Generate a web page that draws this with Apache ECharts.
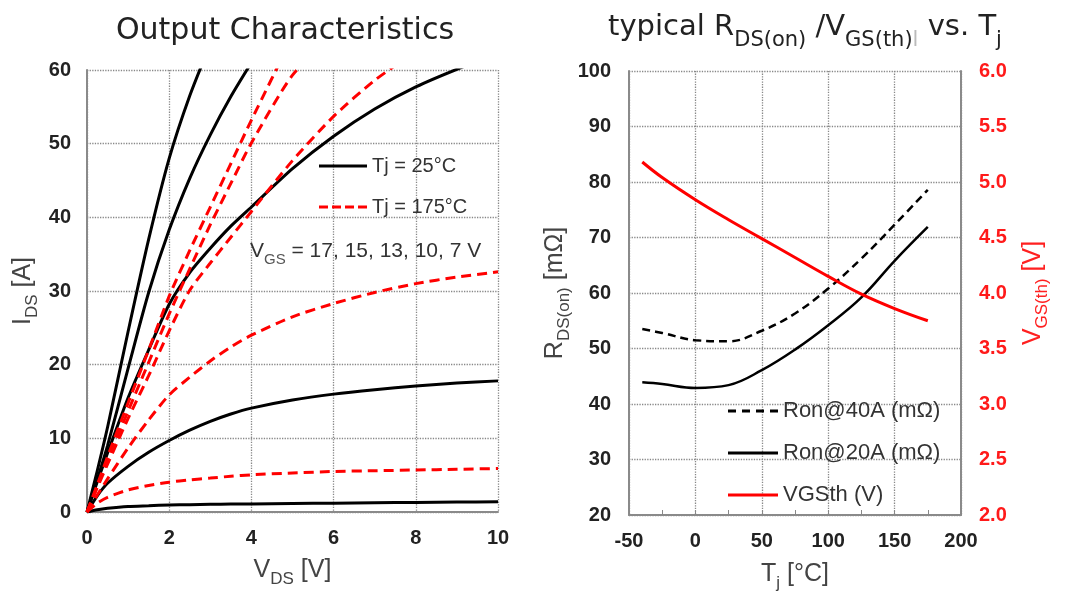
<!DOCTYPE html>
<html>
<head>
<meta charset="utf-8">
<script src="https://cdn.jsdelivr.net/npm/echarts@6/dist/echarts.min.js"></script>
<style>
html,body{margin:0;padding:0;background:#fff;}
#main{width:1080px;height:603px;}
</style>
</head>
<body>
<div id="main"></div>
<script>
// output characteristics, V_DS grid [V]
var vds = [0,0.25,0.5,1,1.5,2,2.5,3,3.5,4,5,6,7,8,9,10];
// Tj = 25C, I_DS [A] per V_GS (shorter arrays end above 60 A)
var id17_25 = [0,5.6,11.5,24.5,37,48,56.5,63.5];
var id15_25 = [0,4.4,9,19.5,29.8,38.3,45.3,51.2,56.4,61];
var id13_25 = [0,4.1,8,15.5,22,28.2,32.5,35.8,38.8,41.4,46.6,51.0,54.7,57.7,60.1,62.2];
var id10_25 = [0,2.2,3.9,6.2,8.1,9.7,11.1,12.3,13.3,14.1,15.2,16.0,16.6,17.1,17.5,17.8];
var id7_25  = [0,0.3,0.5,0.75,0.85,0.95,1.0,1.05,1.08,1.1,1.15,1.2,1.25,1.3,1.35,1.4];
// Tj = 175C
var id17_175 = [0,3.7,7.5,14.8,22,29.3,35.5,41.4,47.3,53.2,64.5];
var id15_175 = [0,3.5,7,13.7,20.3,26.9,33,39,44.6,50.1,59.3,65];
var id13_175 = [0,3.3,6.5,12.7,18.5,24.6,30.1,33.8,37.3,40.8,47.7,53.7,58.6,62.5];
var id10_175 = [0,2.3,4.5,8.7,12.5,15.9,18.3,20.5,22.4,24,26.5,28.3,29.8,31,31.9,32.6];
var id7_175  = [0,1.2,2.0,3.0,3.6,4.05,4.35,4.6,4.85,5.05,5.3,5.5,5.6,5.7,5.8,5.9];

// R_DS(on) / V_GS(th) vs Tj
var tj = [-40,-25,0,25,50,75,100,125,150,175];
var ron40 = [53.5,52.8,51.5,51.3,53.2,56.3,60.8,66.2,72.3,78.6];
var ron20 = [43.9,43.6,42.9,43.4,46.1,49.8,54.2,59.2,65.8,71.9];
var vgsth = [5.18,5.04,4.84,4.66,4.49,4.32,4.15,3.99,3.86,3.75];

function pairs(xs, ys){
  var out = [];
  for (var i = 0; i < ys.length; i++) out.push([xs[i], ys[i]]);
  return out;
}

var chartDom = document.getElementById('main');
var myChart = echarts.init(chartDom);

// dash icons for legend (solid / dashed strokes)
var solidIcon = 'path://M0,0h50v3h-50z';
var dashIcon = 'path://M0,0h9v3h-9z M13,0h9v3h-9z M26,0h9v3h-9z M39,0h9v3h-9z';
var dashIcon2 = 'path://M0,0h8v3h-8z M14,0h8v3h-8z M28,0h8v3h-8z M42,0h8v3h-8z';

var tickFont = {fontFamily:'Liberation Sans', fontWeight:'bold', fontSize:20, color:'#222'};
var gridLine = {show:true, lineStyle:{color:'#888', type:'dotted', width:1.3}};
var axLine = {show:true, onZero:false, lineStyle:{color:'#8a8a8a', width:2}};

function nameRich(color){
  return {
    m:{fontFamily:'Liberation Sans', fontWeight:'normal', fontSize:25, color:color, lineHeight:28, verticalAlign:'top'},
    sub:{fontFamily:'Liberation Sans', fontWeight:'normal', fontSize:17, color:color, lineHeight:17, verticalAlign:'top', padding:[13,0,0,0]}
  };
}

function curve(name, ys, color, dash){
  return {
    name: name, type:'line', xAxisIndex:0, yAxisIndex:0,
    data: pairs(vds, ys), symbol:'none', smooth:0.25,
    lineStyle:{color:color, width:3, type:dash},
    itemStyle:{color:color},
    silent:true
  };
}

var option = {
  animation:false,
  title:[
    {text:'Output Characteristics', left:280, top:11, textAlign:'center',
     textStyle:{fontFamily:'DejaVu Sans', fontWeight:'normal', fontSize:30, color:'#222'}},
    {text:'{m|typical R}{sub|DS(on)}{m| /V}{sub|GS(th)}{bar|l}{m| vs. T}{sub|j}', left:800, top:8, textAlign:'center',
     textStyle:{fontWeight:'normal', rich:{
         m:{fontFamily:'DejaVu Sans', fontWeight:'normal', fontSize:29, color:'#222', lineHeight:36, verticalAlign:'top'},
         sub:{fontFamily:'DejaVu Sans', fontWeight:'normal', fontSize:21, color:'#222', lineHeight:21, verticalAlign:'top', padding:[17,0,0,0]},
         bar:{fontFamily:'DejaVu Sans', fontWeight:'normal', fontSize:21, color:'#bbb', lineHeight:21, verticalAlign:'top', padding:[17,0,0,0]}
       }}},
    {text:'{m|V}{sub|GS}{m| = 17, 15, 13, 10, 7 V}', left:245, top:236,
     textStyle:{fontWeight:'normal', rich:{
       m:{fontFamily:'Liberation Sans', fontWeight:'normal', fontSize:21, color:'#333', lineHeight:24, verticalAlign:'top'},
       sub:{fontFamily:'Liberation Sans', fontWeight:'normal', fontSize:15, color:'#555', lineHeight:15, verticalAlign:'top', padding:[11,0,0,0]}
     }}}
  ],
  legend:[
    {data:[{name:'Tj = 25°C', icon:solidIcon}, {name:'Tj = 175°C', icon:dashIcon}],
     orient:'vertical', left:314, top:151, itemGap:21,
     itemWidth:48, itemHeight:3, selectedMode:false,
     textStyle:{fontFamily:'Liberation Sans', fontSize:20, color:'#333'}},
    {data:[{name:'Ron@40A (mΩ)', icon:dashIcon2}, {name:'Ron@20A (mΩ)', icon:solidIcon}, {name:'VGSth (V)', icon:solidIcon}],
     orient:'vertical', left:723, top:395, itemGap:20,
     itemWidth:50, itemHeight:3, selectedMode:false,
     textStyle:{fontFamily:'Liberation Sans', fontSize:22, color:'#333'}}
  ],
  grid:[
    {left:87, top:70, width:411, height:442},
    {left:629, top:71, width:332, height:444}
  ],
  xAxis:[
    {type:'value', gridIndex:0, min:0, max:10, interval:2,
     axisLine:axLine, axisTick:{show:false}, splitLine:gridLine,
     axisLabel:Object.assign({margin:16}, tickFont),
     name:'{m|V}{sub|DS}{m| [V]}', nameLocation:'middle', nameGap:46,
     nameTextStyle:{rich:nameRich('#444')}},
    {type:'value', gridIndex:1, min:-50, max:200, interval:50,
     axisLine:axLine, splitLine:gridLine,
     axisTick:{show:true, inside:true, length:5, lineStyle:{color:'#888'}},
     minorTick:{show:true, splitNumber:2, length:5, lineStyle:{color:'#888'}},
     axisLabel:Object.assign({margin:16}, tickFont),
     name:'{m|T}{sub|j}{m| [°C]}', nameLocation:'middle', nameGap:47,
     nameTextStyle:{rich:nameRich('#444')}}
  ],
  yAxis:[
    {type:'value', gridIndex:0, min:0, max:60, interval:10,
     axisLine:axLine, axisTick:{show:false}, splitLine:gridLine,
     axisLabel:Object.assign({margin:16}, tickFont),
     name:'{m|I}{sub|DS}{m| [A]}', nameLocation:'middle', nameGap:48, nameRotate:90,
     nameTextStyle:{rich:nameRich('#444')}},
    {type:'value', gridIndex:1, min:20, max:100, interval:10,
     axisLine:axLine, axisTick:{show:false}, splitLine:gridLine,
     axisLabel:Object.assign({margin:18}, tickFont),
     name:'{m|R}{sub|DS(on)}{m| [mΩ]}', nameLocation:'middle', nameGap:58, nameRotate:90,
     nameTextStyle:{rich:nameRich('#444')}},
    {type:'value', gridIndex:1, position:'right', min:2, max:6, interval:0.5,
     axisLine:axLine, axisTick:{show:false}, splitLine:{show:false},
     axisLabel:Object.assign({}, tickFont, {margin:18, color:'#ff1a1a', formatter:function(v){return v.toFixed(1);}}),
     name:'{m|V}{sub|GS(th)}{m| [V]}', nameLocation:'middle', nameGap:60, nameRotate:90,
     nameTextStyle:{rich:nameRich('#ff2020')}}
  ],
  series:[
    curve('Tj = 25°C', id17_25, '#000', 'solid'),
    curve('Tj = 25°C', id15_25, '#000', 'solid'),
    curve('Tj = 25°C', id13_25, '#000', 'solid'),
    curve('Tj = 25°C', id10_25, '#000', 'solid'),
    curve('Tj = 25°C', id7_25, '#000', 'solid'),
    curve('Tj = 175°C', id17_175, '#ff0000', [10,6]),
    curve('Tj = 175°C', id15_175, '#ff0000', [10,6]),
    curve('Tj = 175°C', id13_175, '#ff0000', [10,6]),
    curve('Tj = 175°C', id10_175, '#ff0000', [10,6]),
    curve('Tj = 175°C', id7_175, '#ff0000', [10,6]),
    {name:'Ron@40A (mΩ)', type:'line', xAxisIndex:1, yAxisIndex:1,
     data:pairs(tj, ron40), symbol:'none', smooth:0.4,
     lineStyle:{color:'#000', width:2.5, type:[8,5]}, itemStyle:{color:'#000'}},
    {name:'Ron@20A (mΩ)', type:'line', xAxisIndex:1, yAxisIndex:1,
     data:pairs(tj, ron20), symbol:'none', smooth:0.4,
     lineStyle:{color:'#000', width:2.5}, itemStyle:{color:'#000'}},
    {name:'VGSth (V)', type:'line', xAxisIndex:1, yAxisIndex:2,
     data:pairs(tj, vgsth), symbol:'none', smooth:0.4,
     lineStyle:{color:'#ff0000', width:3}, itemStyle:{color:'#ff0000'}}
  ]
};

myChart.setOption(option);
</script>
</body>
</html>
